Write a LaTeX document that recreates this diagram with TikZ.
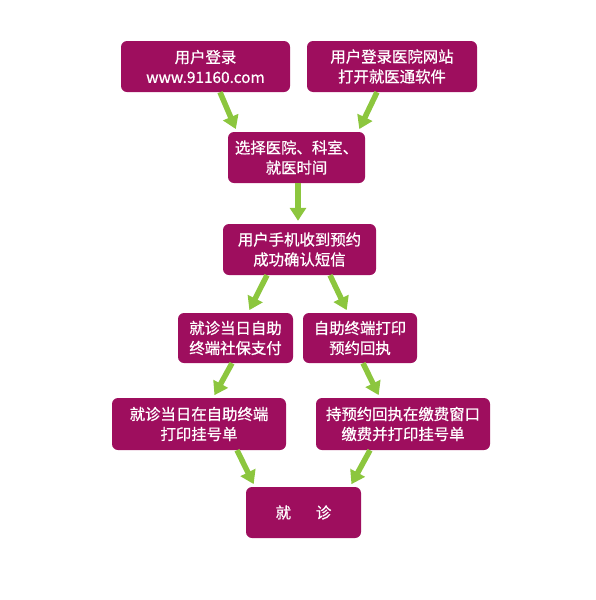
\documentclass[tikz,border=0pt]{standalone}
\usepackage{fontspec}
\setmainfont[FakeBold=0.8]{Noto Sans CJK SC}
\usetikzlibrary{arrows.meta}
\definecolor{boxc}{RGB}{158,14,94}
\definecolor{arrc}{RGB}{140,198,62}
\tikzset{
  box/.style={rectangle, rounded corners=6pt, fill=boxc, text=white, align=center,
    inner sep=0pt, font=\fontsize{15.4}{20}\selectfont},
  garrow/.style={draw=arrc, line width=5.5pt, -{Triangle[width=16pt,length=13pt]}, shorten >=3pt}
}
\begin{document}
\begin{tikzpicture}[x=1pt,y=-1pt]
\useasboundingbox (0,0) rectangle (596,600);
\node[box, minimum width=169pt, minimum height=51pt] (b1) at (205.5,66.5) {用户登录\\www.91160.com};
\node[box, minimum width=170pt, minimum height=51pt] (b2) at (392,66.5) {用户登录医院网站\\打开就医通软件};
\node[box, minimum width=137pt, minimum height=51pt] (b3) at (296.5,157.5) {选择医院、科室、\\就医时间};
\node[box, minimum width=153pt, minimum height=51pt] (b4) at (299.5,249.5) {用户手机收到预约\\成功确认短信};
\node[box, minimum width=115pt, minimum height=50pt] (b5) at (235.5,338) {就诊当日自助\\终端社保支付};
\node[box, minimum width=114pt, minimum height=50pt] (b6) at (360,338) {自助终端打印\\预约回执};
\node[box, minimum width=174pt, minimum height=52pt] (b7) at (199,424) {就诊当日在自助终端\\打印挂号单};
\node[box, minimum width=174pt, minimum height=52pt] (b8) at (403,424) {持预约回执在缴费窗口\\缴费并打印挂号单};
\node[box, minimum width=115pt, minimum height=51pt] (b9) at (303.5,512.5) {就\hspace{25pt}诊};
\draw[garrow] ([xshift=14.5pt]b1.south) -- ([xshift=-59.5pt]b3.north);
\draw[garrow] ([xshift=-15pt]b2.south) -- ([xshift=61.5pt]b3.north);
\draw[garrow] ([xshift=1.5pt]b3.south) -- ([xshift=-1.5pt]b4.north);
\draw[garrow] ([xshift=-32.5pt]b4.south) -- ([xshift=12.5pt]b5.north);
\draw[garrow] ([xshift=30.5pt]b4.south) -- ([xshift=-12pt]b6.north);
\draw[garrow] ([xshift=-3.5pt]b5.south) -- ([xshift=14pt]b7.north);
\draw[garrow] ([xshift=3pt]b6.south) -- ([xshift=-23pt]b8.north);
\draw[garrow] ([xshift=38pt]b7.south) -- ([xshift=-48.5pt]b9.north);
\draw[garrow] ([xshift=-33pt]b8.south) -- ([xshift=46.5pt]b9.north);
\end{tikzpicture}
\end{document}
